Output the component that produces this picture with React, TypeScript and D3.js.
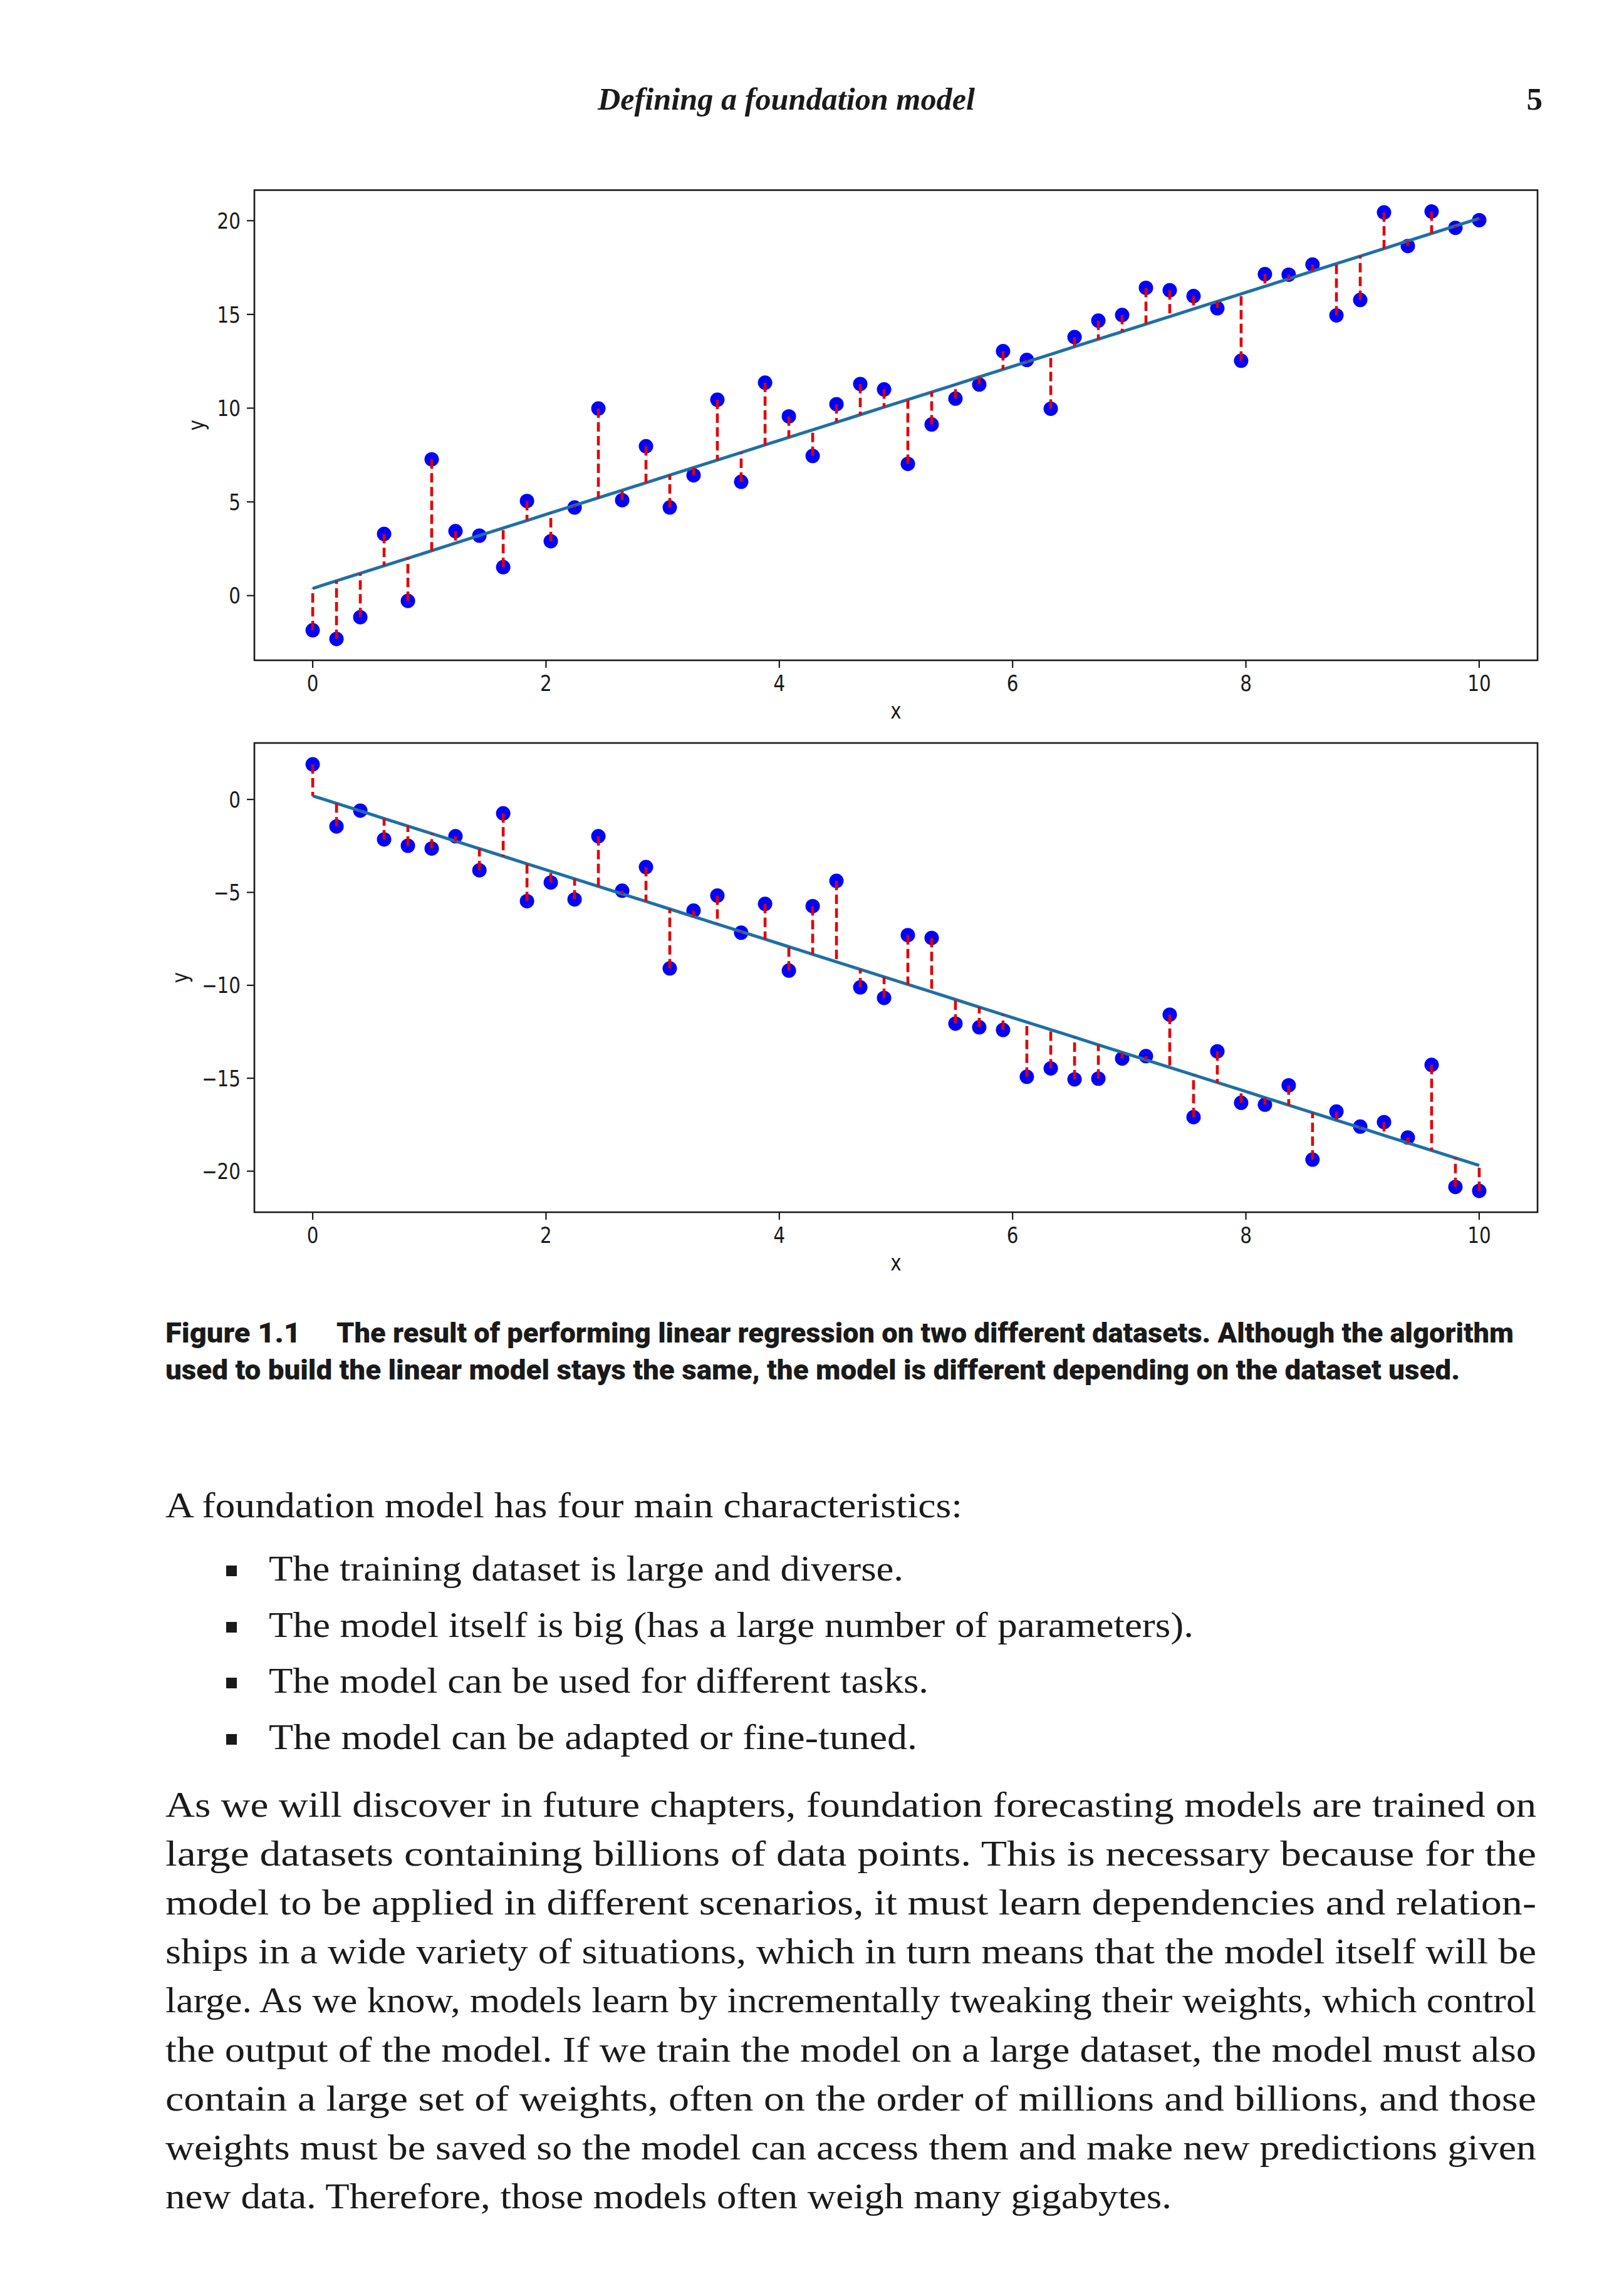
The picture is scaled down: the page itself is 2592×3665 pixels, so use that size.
import React, { useEffect } from 'react';
import * as d3 from 'd3';

// ---------- data ----------
const X_VALUES = [
  0, 0.204, 0.408, 0.612, 0.816, 1.020, 1.224, 1.429, 1.633, 1.837,
  2.041, 2.245, 2.449, 2.653, 2.857, 3.061, 3.265, 3.469, 3.673, 3.878,
  4.082, 4.286, 4.490, 4.694, 4.898, 5.102, 5.306, 5.510, 5.714, 5.918,
  6.122, 6.327, 6.531, 6.735, 6.939, 7.143, 7.347, 7.551, 7.755, 7.959,
  8.163, 8.367, 8.571, 8.776, 8.980, 9.184, 9.388, 9.592, 9.796, 10.0,
];

const Y_TOP = [
  -1.85, -2.31, -1.15, 3.29, -0.28, 7.27, 3.44, 3.2, 1.52, 5.05,
  2.9, 4.7, 9.98, 5.09, 7.97, 4.7, 6.42, 10.45, 6.07, 11.36,
  9.56, 7.45, 10.21, 11.29, 11.0, 7.03, 9.13, 10.51, 11.26, 13.04,
  12.57, 9.97, 13.79, 14.67, 14.97, 16.42, 16.29, 15.98, 15.33, 12.53,
  17.15, 17.12, 17.66, 14.95, 15.77, 20.44, 18.65, 20.49, 19.62, 20.03,
];

const Y_BOTTOM = [
  1.89, -1.45, -0.6, -2.15, -2.49, -2.64, -1.98, -3.81, -0.75, -5.47,
  -4.47, -5.38, -1.98, -4.91, -3.64, -9.09, -5.98, -5.17, -7.17, -5.62,
  -9.21, -5.74, -4.38, -10.11, -10.68, -7.3, -7.45, -12.06, -12.26, -12.4,
  -14.92, -14.47, -15.06, -15.02, -13.94, -13.81, -11.58, -17.09, -13.55, -16.32,
  -16.42, -15.38, -19.38, -16.79, -17.6, -17.36, -18.19, -14.28, -20.85, -21.06,
];

const X_TICKS = [0, 2, 4, 6, 8, 10];
const Y_TICKS_TOP = [0, 5, 10, 15, 20];
const Y_TICKS_BOTTOM = [0, -5, -10, -15, -20];

const HEADER_TITLE = 'Defining a foundation model';
const PAGE_NUMBER = '5';
const CAPTION_LABEL = 'Figure 1.1';
const CAPTION_LINES = [
  'The result of performing linear regression on two different datasets. Although the algorithm',
  'used to build the linear model stays the same, the model is different depending on the dataset used.',
];
const INTRO = 'A foundation model has four main characteristics:';
const BULLETS = [
  'The training dataset is large and diverse.',
  'The model itself is big (has a large number of parameters).',
  'The model can be used for different tasks.',
  'The model can be adapted or fine-tuned.',
];
const BULLET_WIDTHS = [1013, 1476, 1053, 1035];
const PARAGRAPH = [
  'As we will discover in future chapters, foundation forecasting models are trained on',
  'large datasets containing billions of data points. This is necessary because for the',
  'model to be applied in different scenarios, it must learn dependencies and relation-',
  'ships in a wide variety of situations, which in turn means that the model itself will be',
  'large. As we know, models learn by incrementally tweaking their weights, which control',
  'the output of the model. If we train the model on a large dataset, the model must also',
  'contain a large set of weights, often on the order of millions and billions, and those',
  'weights must be saved so the model can access them and make new predictions given',
  'new data. Therefore, those models often weigh many gigabytes.',
];

// ---------- helpers ----------
function fitLine(xs: number[], ys: number[]) {
  const mx = d3.mean(xs) as number;
  const my = d3.mean(ys) as number;
  let num = 0;
  let den = 0;
  xs.forEach((xv, i) => {
    num += (xv - mx) * (ys[i] - my);
    den += (xv - mx) * (xv - mx);
  });
  const slope = num / den;
  return { slope, intercept: my - slope * mx };
}

const TICK_FONT = "'DejaVu Sans', sans-serif";
const SERIF = "'Liberation Serif', 'Times New Roman', serif";
const INK = '#1a1a1a';
const SQUISH = 0.84;

type PanelProps = {
  top: number;
  bottom: number;
  ys: number[];
  yTicks: number[];
  yLabelX: number;
};

function ChartText(props: {
  x: number;
  y: number;
  anchor: 'start' | 'middle' | 'end';
  dy?: string;
  rotate?: number;
  children: React.ReactNode;
}) {
  const { x, y, anchor, dy, rotate, children } = props;
  return (
    <text
      transform={`translate(${x},${y})${rotate ? ` rotate(${rotate})` : ''} scale(${SQUISH},1)`}
      textAnchor={anchor}
      dy={dy}
      fontFamily={TICK_FONT}
      fontSize={35}
      fill={INK}
    >
      {children}
    </text>
  );
}

function Panel({ top, bottom, ys, yTicks, yLabelX }: PanelProps) {
  const left = 406;
  const right = 2454;
  const x = d3.scaleLinear().domain([-0.5, 10.5]).range([left, right]);
  const [mn, mx] = d3.extent(ys) as [number, number];
  const pad = (mx - mn) * 0.05;
  const y = d3.scaleLinear().domain([mn - pad, mx + pad]).range([bottom, top]);
  const { slope, intercept } = fitLine(X_VALUES, ys);
  const pred = X_VALUES.map((v) => intercept + slope * v);
  const linePath = d3
    .line<number>()
    .x((_, i) => x(X_VALUES[i]))
    .y((d) => y(d))(pred) as string;
  const fmt = d3.format('d');
  const tickLen = 12;

  return (
    <g>
      {/* points */}
      {X_VALUES.map((xv, i) => (
        <circle key={'p' + i} cx={x(xv)} cy={y(ys[i])} r={11.5} fill="#0000ff" />
      ))}
      {/* regression line */}
      <path d={linePath} fill="none" stroke="#1f6fa6" strokeWidth={5} />
      {/* residuals */}
      {X_VALUES.map((xv, i) => (
        <line
          key={'r' + i}
          x1={x(xv)}
          x2={x(xv)}
          y1={y(ys[i])}
          y2={y(pred[i])}
          stroke="#e00000"
          strokeWidth={4.6}
          strokeDasharray="15,7"
        />
      ))}
      {/* frame */}
      <rect
        x={left}
        y={top}
        width={right - left}
        height={bottom - top}
        fill="none"
        stroke={INK}
        strokeWidth={2.6}
      />
      {/* x ticks */}
      {X_TICKS.map((t) => (
        <g key={'xt' + t}>
          <line x1={x(t)} x2={x(t)} y1={bottom} y2={bottom + tickLen} stroke={INK} strokeWidth={2.2} />
          <ChartText x={x(t)} y={bottom + 49} anchor="middle">
            {fmt(t)}
          </ChartText>
        </g>
      ))}
      {/* y ticks */}
      {yTicks.map((t) => (
        <g key={'yt' + t}>
          <line x1={left - tickLen} x2={left} y1={y(t)} y2={y(t)} stroke={INK} strokeWidth={2.2} />
          <ChartText x={left - tickLen - 10} y={y(t)} dy="0.36em" anchor="end">
            {fmt(t)}
          </ChartText>
        </g>
      ))}
      {/* axis labels */}
      <ChartText x={(left + right) / 2} y={bottom + 93} anchor="middle">
        x
      </ChartText>
      <ChartText x={yLabelX} y={(top + bottom) / 2} anchor="middle" rotate={-90}>
        y
      </ChartText>
    </g>
  );
}

export default function App() {
  useEffect(() => {
    document.body.style.margin = '0';
  }, []);

  const textLeft = 264;
  const textRight = 2452;
  const paraTop = 2900;
  const paraStep = 78.1;
  const bulletBaselines = [2523, 2613, 2702, 2792];
  const capFont = "Roboto, 'Liberation Sans', sans-serif";

  return (
    <svg
      width={2592}
      height={3665}
      viewBox="0 0 2592 3665"
      style={{ display: 'block', position: 'absolute', left: 0, top: 0, background: '#fff' }}
    >
      <rect x={0} y={0} width={2592} height={3665} fill="#fff" />

      {/* running header */}
      <text
        x={954}
        y={175}
        fontFamily={SERIF}
        fontStyle="italic"
        fontWeight={700}
        fontSize={51}
        fill={INK}
        textLength={602}
        lengthAdjust="spacingAndGlyphs"
      >
        {HEADER_TITLE}
      </text>
      <text x={2462} y={175} textAnchor="end" fontFamily={SERIF} fontWeight={700} fontSize={51} fill={INK}>
        {PAGE_NUMBER}
      </text>

      <Panel top={303.5} bottom={1054} ys={Y_TOP} yTicks={Y_TICKS_TOP} yLabelX={326} />
      <Panel top={1186} bottom={1935} ys={Y_BOTTOM} yTicks={Y_TICKS_BOTTOM} yLabelX={300} />

      {/* caption */}
      <text
        x={264}
        y={2143}
        fontFamily={capFont}
        fontWeight={900}
        fontSize={45}
        fill={INK}
        textLength={216}
        lengthAdjust="spacingAndGlyphs"
      >
        {CAPTION_LABEL}
      </text>
      <text
        x={537}
        y={2143}
        fontFamily={capFont}
        fontWeight={900}
        fontSize={45}
        fill={INK}
        textLength={1879}
        lengthAdjust="spacingAndGlyphs"
      >
        {CAPTION_LINES[0]}
      </text>
      <text
        x={264}
        y={2202}
        fontFamily={capFont}
        fontWeight={900}
        fontSize={45}
        fill={INK}
        textLength={2066}
        lengthAdjust="spacingAndGlyphs"
      >
        {CAPTION_LINES[1]}
      </text>

      {/* intro */}
      <text
        x={textLeft}
        y={2422}
        fontFamily={SERIF}
        fontSize={56}
        fill={INK}
        textLength={1272}
        lengthAdjust="spacingAndGlyphs"
      >
        {INTRO}
      </text>

      {/* bullets */}
      {BULLETS.map((b, i) => (
        <g key={'b' + i}>
          <rect x={361} y={bulletBaselines[i] - 24} width={17} height={17} fill={INK} />
          <text
            x={429}
            y={bulletBaselines[i]}
            fontFamily={SERIF}
            fontSize={56}
            fill={INK}
            textLength={BULLET_WIDTHS[i]}
            lengthAdjust="spacingAndGlyphs"
          >
            {b}
          </text>
        </g>
      ))}

      {/* paragraph */}
      {PARAGRAPH.map((line, i) => (
        <text
          key={'l' + i}
          x={textLeft}
          y={paraTop + i * paraStep}
          fontFamily={SERIF}
          fontSize={56}
          fill={INK}
          textLength={i === PARAGRAPH.length - 1 ? 1606 : textRight - textLeft}
          lengthAdjust="spacingAndGlyphs"
        >
          {line}
        </text>
      ))}
    </svg>
  );
}
